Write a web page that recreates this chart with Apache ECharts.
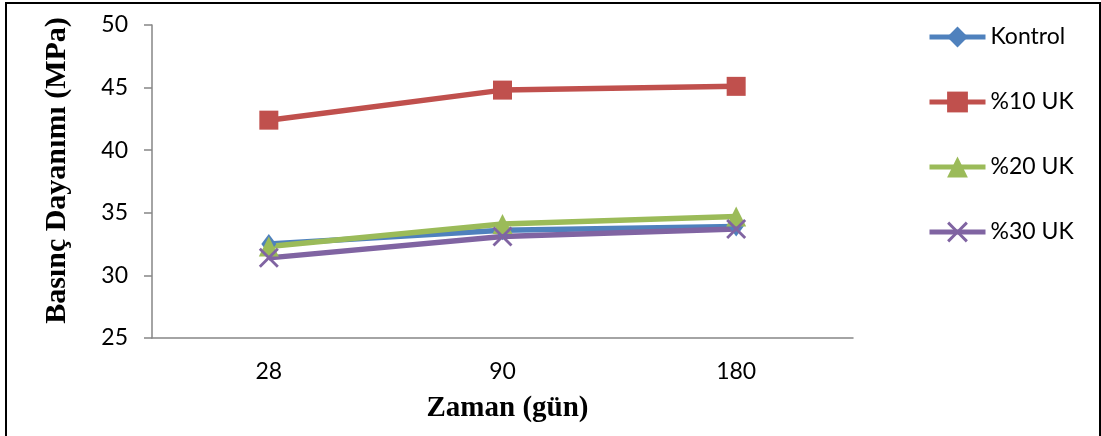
<!DOCTYPE html>
<html>
<head>
<meta charset="utf-8">
<script src="https://cdn.jsdelivr.net/npm/echarts@6/dist/echarts.min.js"></script>
<style>
html,body{margin:0;padding:0;background:#fff;}
#chart{width:1101px;height:436px;}
</style>
</head>
<body>
<div id="chart"></div>
<script>
const categories = ['28', '90', '180'];
const kontrol = [32.5, 33.6, 33.9];
const uk10 = [42.4, 44.8, 45.1];
const uk20 = [32.3, 34.1, 34.7];
const uk30 = [31.4, 33.1, 33.7];
const seriesNames = ['Kontrol', '%10 UK', '%20 UK', '%30 UK'];
const yTicks = { min: 25, max: 50, interval: 5 };

const colors = ['#4F81BD', '#C0504D', '#9BBB59', '#8064A2'];
const crossPath = 'path://M0,1 L1,0 L5,4 L9,0 L10,1 L6,5 L10,9 L9,10 L5,6 L1,10 L0,9 L4,5 Z';
const symbols = ['diamond', 'rect', 'triangle', crossPath];
const symbolSizes = [[15, 20], 19, 20, 20];
const dataSets = [kontrol, uk10, uk20, uk30];

const chart = echarts.init(document.getElementById('chart'));
const labelFont = 'Lato, "Open Sans", sans-serif';
const titleFont = '"Liberation Serif", "Times New Roman", serif';

chart.setOption({
  animation: false,
  color: colors,
  grid: { left: 152, right: 248, top: 25, bottom: 98, containLabel: false },
  legend: {
    orient: 'vertical',
    left: 922,
    top: 19,
    itemWidth: 56,
    itemHeight: 26,
    itemGap: 39,
    lineStyle: { width: 5 },
    textStyle: { fontFamily: labelFont, fontSize: 23, color: '#000', lineHeight: 26 },
    data: seriesNames
  },
  xAxis: {
    type: 'category',
    data: categories,
    boundaryGap: true,
    axisLine: { lineStyle: { color: '#868686', width: 1.5 } },
    axisTick: { show: false },
    axisLabel: { fontFamily: labelFont, fontSize: 23, color: '#000', margin: 22 },
    name: 'Zaman (gün)',
    nameLocation: 'middle',
    nameGap: 56,
    nameTextStyle: { fontFamily: titleFont, fontWeight: 'bold', fontSize: 29, color: '#000', padding: [0, 0, 0, 10] }
  },
  yAxis: {
    type: 'value',
    min: yTicks.min,
    max: yTicks.max,
    interval: yTicks.interval,
    axisLine: { show: true, lineStyle: { color: '#868686', width: 1.5 } },
    axisTick: { show: true, length: 8, lineStyle: { color: '#868686', width: 1.5 } },
    splitLine: { show: false },
    axisLabel: { fontFamily: labelFont, fontSize: 23, color: '#000', margin: 24 },
    name: 'Basınç Dayanımı (MPa)',
    nameLocation: 'middle',
    nameGap: 80,
    nameTextStyle: { fontFamily: titleFont, fontWeight: 'bold', fontSize: 30, color: '#000', padding: [0, 0, 0, 22] }
  },
  graphic: [{
    type: 'rect',
    shape: { x: 6, y: 3, width: 1094, height: 460 },
    style: { fill: 'none', stroke: '#000', lineWidth: 2 },
    silent: true,
    z: 100
  }],
  series: seriesNames.map((name, i) => ({
    name: name,
    type: 'line',
    data: dataSets[i],
    symbol: symbols[i],
    symbolSize: symbolSizes[i],
    showAllSymbol: true,
    lineStyle: { width: 5.5, color: colors[i] },
    itemStyle: { color: colors[i] },
    emphasis: { disabled: true }
  }))
});
</script>
</body>
</html>
